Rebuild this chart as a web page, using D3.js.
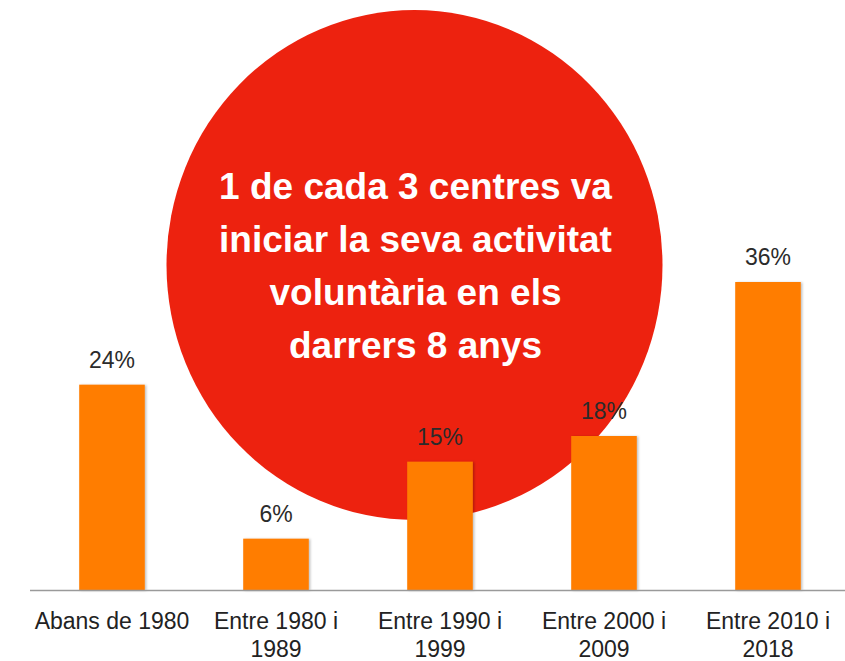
<!DOCTYPE html>
<html>
<head>
<meta charset="utf-8">
<script src="https://cdn.jsdelivr.net/npm/d3@7"></script>
<style>
    html, body { margin: 0; padding: 0; background: #fff; }
    svg { display: block; }
    text { font-family: "Liberation Sans", Arial, sans-serif; }
</style>
</head>
<body>
<script>
"use strict";

var categories = ['Abans de 1980', 'Entre 1980 i 1989', 'Entre 1990 i 1999', 'Entre 2000 i 2009', 'Entre 2010 i 2018'];
var values = [24, 6, 15, 18, 36];
var headline = ['1 de cada 3 centres va', 'iniciar la seva activitat', 'voluntària en els', 'darrers 8 anys'];

var width = 845, height = 661;
var baseline = 590;

var svg = d3.select('body').append('svg')
    .attr('width', width)
    .attr('height', height);

var defs = svg.append('defs');
var shadow = defs.append('filter')
    .attr('id', 'bar-shadow')
    .attr('x', '-20%').attr('y', '-20%')
    .attr('width', '140%').attr('height', '140%');
shadow.append('feDropShadow')
    .attr('dx', 1.5).attr('dy', 0.5)
    .attr('stdDeviation', 1.2)
    .attr('flood-color', '#000')
    .attr('flood-opacity', 0.25);

var x = d3.scaleBand()
    .domain(categories)
    .range([30, 850])
    .paddingInner(0.6)
    .paddingOuter(0.3);

var y = d3.scaleLinear()
    .domain([0, 36])
    .range([baseline, 282]);

// big red bubble behind the bars
svg.append('ellipse')
    .attr('cx', 414.5)
    .attr('cy', 265)
    .attr('rx', 248)
    .attr('ry', 255)
    .attr('fill', '#ED220F');

svg.append('g')
    .attr('class', 'bars')
    .selectAll('rect')
    .data(values)
    .join('rect')
        .attr('x', function(d, i) { return x(categories[i]); })
        .attr('y', function(d) { return y(d); })
        .attr('width', x.bandwidth())
        .attr('height', function(d) { return baseline - y(d); })
        .attr('fill', '#FF7D00')
        .attr('filter', 'url(#bar-shadow)');

svg.append('g')
    .attr('class', 'values')
    .selectAll('text')
    .data(values)
    .join('text')
        .attr('x', function(d, i) { return x(categories[i]) + x.bandwidth() / 2; })
        .attr('y', function(d) { return y(d) - 17; })
        .attr('text-anchor', 'middle')
        .attr('font-size', '23px')
        .attr('fill', '#2b2b2b')
        .text(function(d) { return d + '%'; });

function wrap(selection, maxWidth, lineHeight) {
    selection.each(function() {
        var text = d3.select(this);
        var words = text.text().split(/\s+/);
        var lines = [[]];
        text.text(null);
        var probe = text.append('tspan');
        words.forEach(function(w) {
            var cur = lines[lines.length - 1];
            probe.text(cur.concat([w]).join(' '));
            if (cur.length && probe.node().getComputedTextLength() > maxWidth) {
                lines.push([w]);
            } else {
                cur.push(w);
            }
        });
        probe.remove();
        lines.forEach(function(l, i) {
            text.append('tspan')
                .attr('x', 0)
                .attr('dy', i === 0 ? 0 : lineHeight)
                .text(l.join(' '));
        });
    });
}

var axis = svg.append('g')
    .attr('class', 'x-axis')
    .attr('transform', 'translate(0,' + baseline + ')')
    .call(d3.axisBottom(x).tickSize(0).tickPadding(0));

axis.select('.domain')
    .attr('d', 'M30,0.5H' + width)
    .attr('stroke', '#9a9a9a')
    .attr('stroke-width', 1.6);

axis.selectAll('.tick text')
    .attr('y', 39)
    .attr('dy', 0)
    .attr('font-size', '23px')
    .attr('font-family', '"Liberation Sans", Arial, sans-serif')
    .attr('fill', '#222')
    .call(wrap, x.step() - 4, 28);

svg.append('g')
    .attr('class', 'headline')
    .selectAll('text')
    .data(headline)
    .join('text')
        .attr('x', 415.5)
        .attr('y', function(d, i) { return 199 + i * 53; })
        .attr('text-anchor', 'middle')
        .attr('font-size', '37px')
        .attr('font-weight', 'bold')
        .attr('fill', '#fff')
        .text(function(d) { return d; });
</script>
</body>
</html>
